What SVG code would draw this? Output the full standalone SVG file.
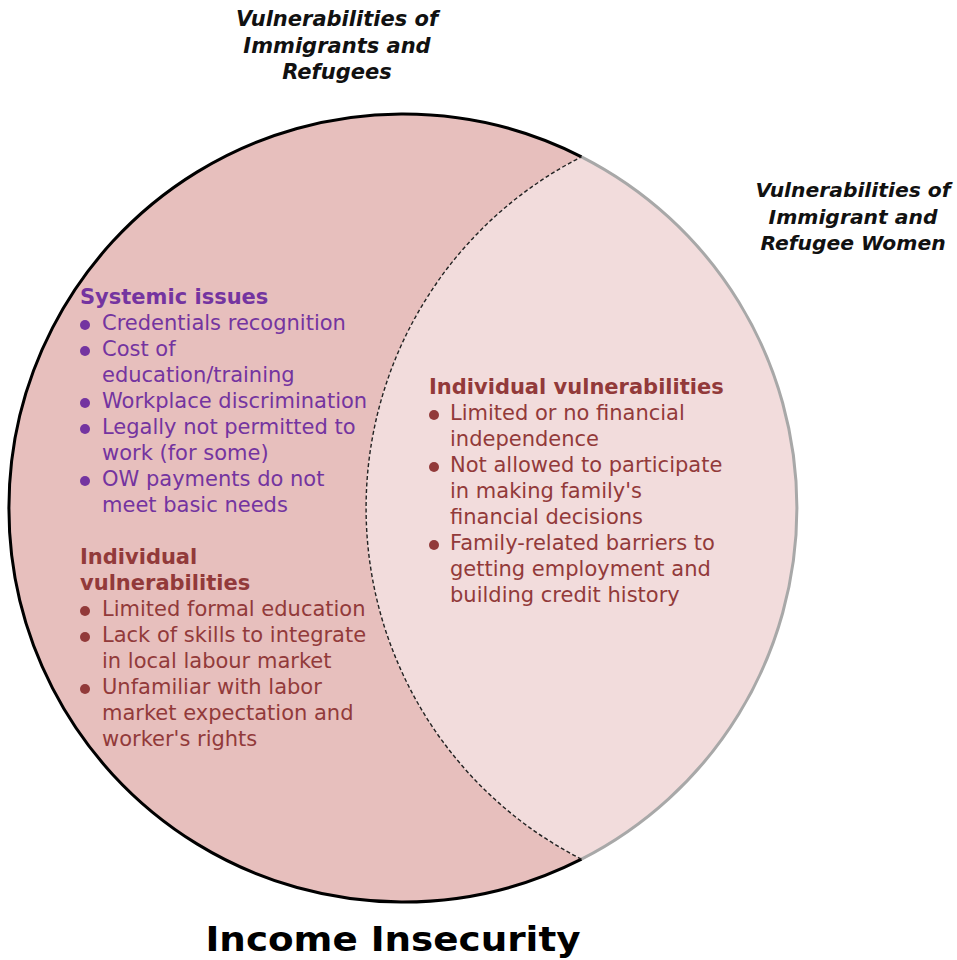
<svg xmlns="http://www.w3.org/2000/svg" width="957" height="960" viewBox="0 0 957 960">
<style>
.t{font-family:"DejaVu Sans","Verdana",sans-serif}
.ti{font-family:"DejaVu Sans",sans-serif;font-weight:bold;font-style:italic;font-size:20.3px;fill:#111;text-anchor:middle}
.p{font-size:21px;fill:#7434a0}
.ph{font-size:21px;fill:#7434a0;font-weight:bold}
.r{font-size:21px;fill:#923a3a}
.rh{font-size:21px;fill:#923a3a;font-weight:bold}
.bp{fill:#7434a0}
.br{fill:#923a3a}
</style>
<g id="regions">
<path id="left-region" d="M581.5 156.8 A394 394 0 1 0 581.5 859.2 A394 394 0 0 1 581.5 156.8 Z" fill="#e7bfbd"/>
<path id="right-region" d="M581.5 156.8 A394 394 0 0 1 581.5 859.2 A394 394 0 0 1 581.5 156.8 Z" fill="#f2dcdc"/>
</g>
<g id="connectors">
<path d="M581.5 156.8 A394 394 0 1 0 581.5 859.2" fill="none" stroke="#000" stroke-width="3"/>
<path d="M581.5 156.8 A394 394 0 0 1 581.5 859.2" fill="none" stroke="#a8a8a8" stroke-width="3"/>
<path d="M581.5 859.2 A394 394 0 0 1 581.5 156.8" fill="none" stroke="#222" stroke-width="1.4" stroke-dasharray="4 2.5"/>
</g>
<g id="title-left">
<text class="ti" x="337" y="26" style="font-size:21px">Vulnerabilities of</text>
<text class="ti" x="337" y="53" style="font-size:21px">Immigrants and</text>
<text class="ti" x="337" y="79" style="font-size:21px">Refugees</text>
</g>
<g id="title-right">
<text class="ti" x="853" y="197">Vulnerabilities of</text>
<text class="ti" x="853" y="224">Immigrant and</text>
<text class="ti" x="853" y="250">Refugee Women</text>
</g>
<g id="systemic" class="t">
<text class="t ph" x="80" y="304">Systemic issues</text>
<circle class="bp" cx="85" cy="325" r="5"/>
<circle class="bp" cx="85" cy="351" r="5"/>
<circle class="bp" cx="85" cy="403" r="5"/>
<circle class="bp" cx="85" cy="429" r="5"/>
<circle class="bp" cx="85" cy="481" r="5"/>
<text class="t p" x="102" y="330">Credentials recognition</text>
<text class="t p" x="102" y="356">Cost of</text>
<text class="t p" x="102" y="382">education/training</text>
<text class="t p" x="102" y="408">Workplace discrimination</text>
<text class="t p" x="102" y="434">Legally not permitted to</text>
<text class="t p" x="102" y="460">work (for some)</text>
<text class="t p" x="102" y="486">OW payments do not</text>
<text class="t p" x="102" y="512">meet basic needs</text>
</g>
<g id="individual-left" class="t">
<text class="t rh" x="80" y="564">Individual</text>
<text class="t rh" x="80" y="590">vulnerabilities</text>
<circle class="br" cx="85" cy="611" r="5"/>
<circle class="br" cx="85" cy="637" r="5"/>
<circle class="br" cx="85" cy="689" r="5"/>
<text class="t r" x="102" y="616">Limited formal education</text>
<text class="t r" x="102" y="642">Lack of skills to integrate</text>
<text class="t r" x="102" y="668">in local labour market</text>
<text class="t r" x="102" y="694">Unfamiliar with labor</text>
<text class="t r" x="102" y="720">market expectation and</text>
<text class="t r" x="102" y="746">worker's rights</text>
</g>
<g id="individual-right" class="t">
<text class="t rh" x="429" y="394">Individual vulnerabilities</text>
<circle class="br" cx="434" cy="415" r="5"/>
<circle class="br" cx="434" cy="467" r="5"/>
<circle class="br" cx="434" cy="545" r="5"/>
<text class="t r" x="450" y="420">Limited or no financial</text>
<text class="t r" x="450" y="446">independence</text>
<text class="t r" x="450" y="472">Not allowed to participate</text>
<text class="t r" x="450" y="498">in making family's</text>
<text class="t r" x="450" y="524">financial decisions</text>
<text class="t r" x="450" y="550">Family-related barriers to</text>
<text class="t r" x="450" y="576">getting employment and</text>
<text class="t r" x="450" y="602">building credit history</text>
</g>
<g id="caption">
<text class="t" x="393" y="951" text-anchor="middle" font-size="34" font-weight="bold" fill="#000" textLength="375" lengthAdjust="spacingAndGlyphs">Income Insecurity</text>
</g>
</svg>
